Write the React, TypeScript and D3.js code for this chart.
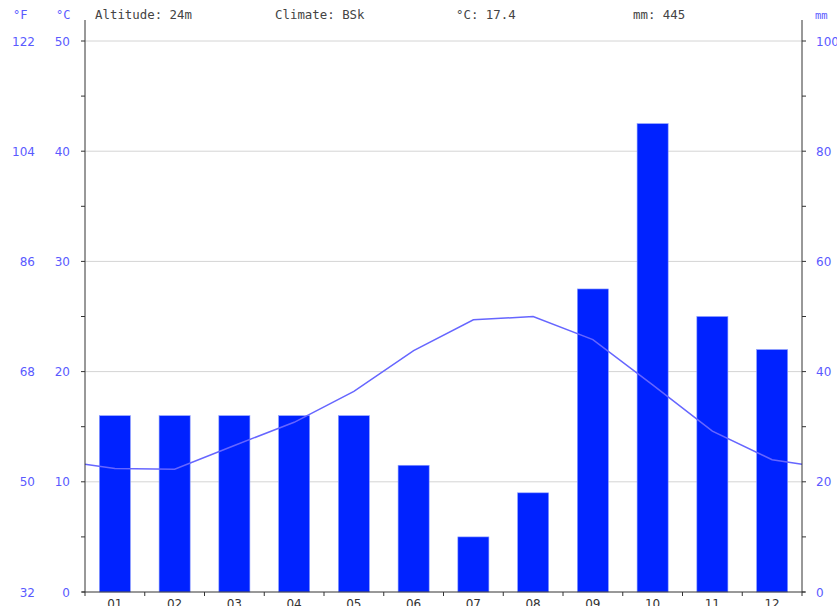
import React, { useEffect } from "react";
import * as d3 from "d3";

const months = ["01", "02", "03", "04", "05", "06", "07", "08", "09", "10", "11", "12"];
const precipitation = [32, 32, 32, 32, 32, 23, 10, 18, 55, 85, 50, 44];
const temperature = [11.2, 11.15, 13.3, 15.4, 18.2, 21.9, 24.7, 25.0, 22.9, 18.8, 14.6, 12.0];
const celsiusTicks = [0, 10, 20, 30, 40, 50];
const fahrenheitTicks = [32, 50, 68, 86, 104, 122];
const mmTicks = [0, 20, 40, 60, 80, 100];
const header = [
  { text: "Altitude: 24m", x: 95 },
  { text: "Climate: BSk", x: 275 },
  { text: "°C: 17.4", x: 456 },
  { text: "mm: 445", x: 633 },
];

const W = 837;
const H = 606;
const left = 85;
const right = 802;
const top = 41;
const bottom = 592;

export default function App() {
  useEffect(() => {
    document.body.style.margin = "0";
  }, []);

  const x = d3.scaleBand<string>().domain(months).range([left, right]).paddingInner(0.48).paddingOuter(0.24);
  const xb = d3.scaleBand<string>().domain(months).range([left, right]);
  const yT = d3.scaleLinear().domain([0, 50]).range([bottom, top]);
  const yP = d3.scaleLinear().domain([0, 100]).range([bottom, top]);

  const edge = (temperature[0] + temperature[11]) / 2;
  const linePts: [number, number][] = [
    [left, yT(edge)],
    ...months.map((m, i) => [xb(m)! + xb.bandwidth() / 2, yT(temperature[i])] as [number, number]),
    [right, yT(edge)],
  ];
  const line = d3.line<[number, number]>()(linePts) || "";

  const axisColor = "#333";
  const labelBlue = "#5a5aff";
  const sans = "'DejaVu Sans', sans-serif";
  const mono = "'DejaVu Sans Mono', monospace";

  const minorT = d3.range(0, 51, 5);
  const minorP = d3.range(0, 101, 10);

  return (
    <svg width={W} height={H} style={{ display: "block", background: "#fff" }}>
      {celsiusTicks.slice(1).map((t) => (
        <line key={"g" + t} x1={left} x2={right} y1={yT(t)} y2={yT(t)} stroke="#d4d4d4" strokeWidth={1} />
      ))}
      {months.map((m, i) => (
        <rect
          key={"b" + m}
          x={x(m)}
          y={yP(precipitation[i])}
          width={x.bandwidth()}
          height={bottom - yP(precipitation[i])}
          fill="#0022ff"
          stroke="#8fa0ff"
          strokeWidth={0.6}
        />
      ))}
      <path d={line} fill="none" stroke="#6666ff" strokeWidth={1.5} />
      <line x1={left} x2={left} y1={20} y2={bottom + 4} stroke={axisColor} strokeWidth={1} />
      <line x1={right} x2={right} y1={20} y2={bottom + 4} stroke={axisColor} strokeWidth={1} />
      <line x1={left - 3} x2={right + 3} y1={bottom} y2={bottom} stroke={axisColor} strokeWidth={1} />
      {minorT.map((t) => (
        <line key={"lt" + t} x1={left - 4} x2={left} y1={yT(t)} y2={yT(t)} stroke={axisColor} strokeWidth={1} />
      ))}
      {minorP.map((t) => (
        <line key={"rt" + t} x1={right} x2={right + 4} y1={yP(t)} y2={yP(t)} stroke={axisColor} strokeWidth={1} />
      ))}
      {months.slice(1).map((m) => (
        <line key={"xt" + m} x1={xb(m)} x2={xb(m)} y1={bottom} y2={bottom + 4} stroke={axisColor} strokeWidth={1} />
      ))}
      {celsiusTicks.map((t, i) => (
        <g key={"ll" + t}>
          <text x={70} y={yT(t) + 4.5} textAnchor="end" fontFamily={sans} fontSize={12} fill={labelBlue}>
            {t}
          </text>
          <text x={35} y={yT(t) + 4.5} textAnchor="end" fontFamily={sans} fontSize={12} fill={labelBlue}>
            {fahrenheitTicks[i]}
          </text>
        </g>
      ))}
      {mmTicks.map((t) => (
        <text key={"rl" + t} x={816} y={yP(t) + 4.5} textAnchor="start" fontFamily={sans} fontSize={12} fill={labelBlue}>
          {t}
        </text>
      ))}
      <text x={13} y={19} fontFamily={mono} fontSize={12} fill={labelBlue}>°F</text>
      <text x={56} y={19} fontFamily={mono} fontSize={12} fill={labelBlue}>°C</text>
      <text x={815} y={19} fontFamily={mono} fontSize={10.5} fill={labelBlue}>mm</text>
      {header.map((h) => (
        <text key={h.text} x={h.x} y={19} fontFamily={mono} fontSize={12.4} fill="#444">
          {h.text}
        </text>
      ))}
      {months.map((m) => (
        <text key={"xl" + m} x={xb(m)! + xb.bandwidth() / 2} y={608} textAnchor="middle" fontFamily={sans} fontSize={12} fill="#333">
          {m}
        </text>
      ))}
    </svg>
  );
}
